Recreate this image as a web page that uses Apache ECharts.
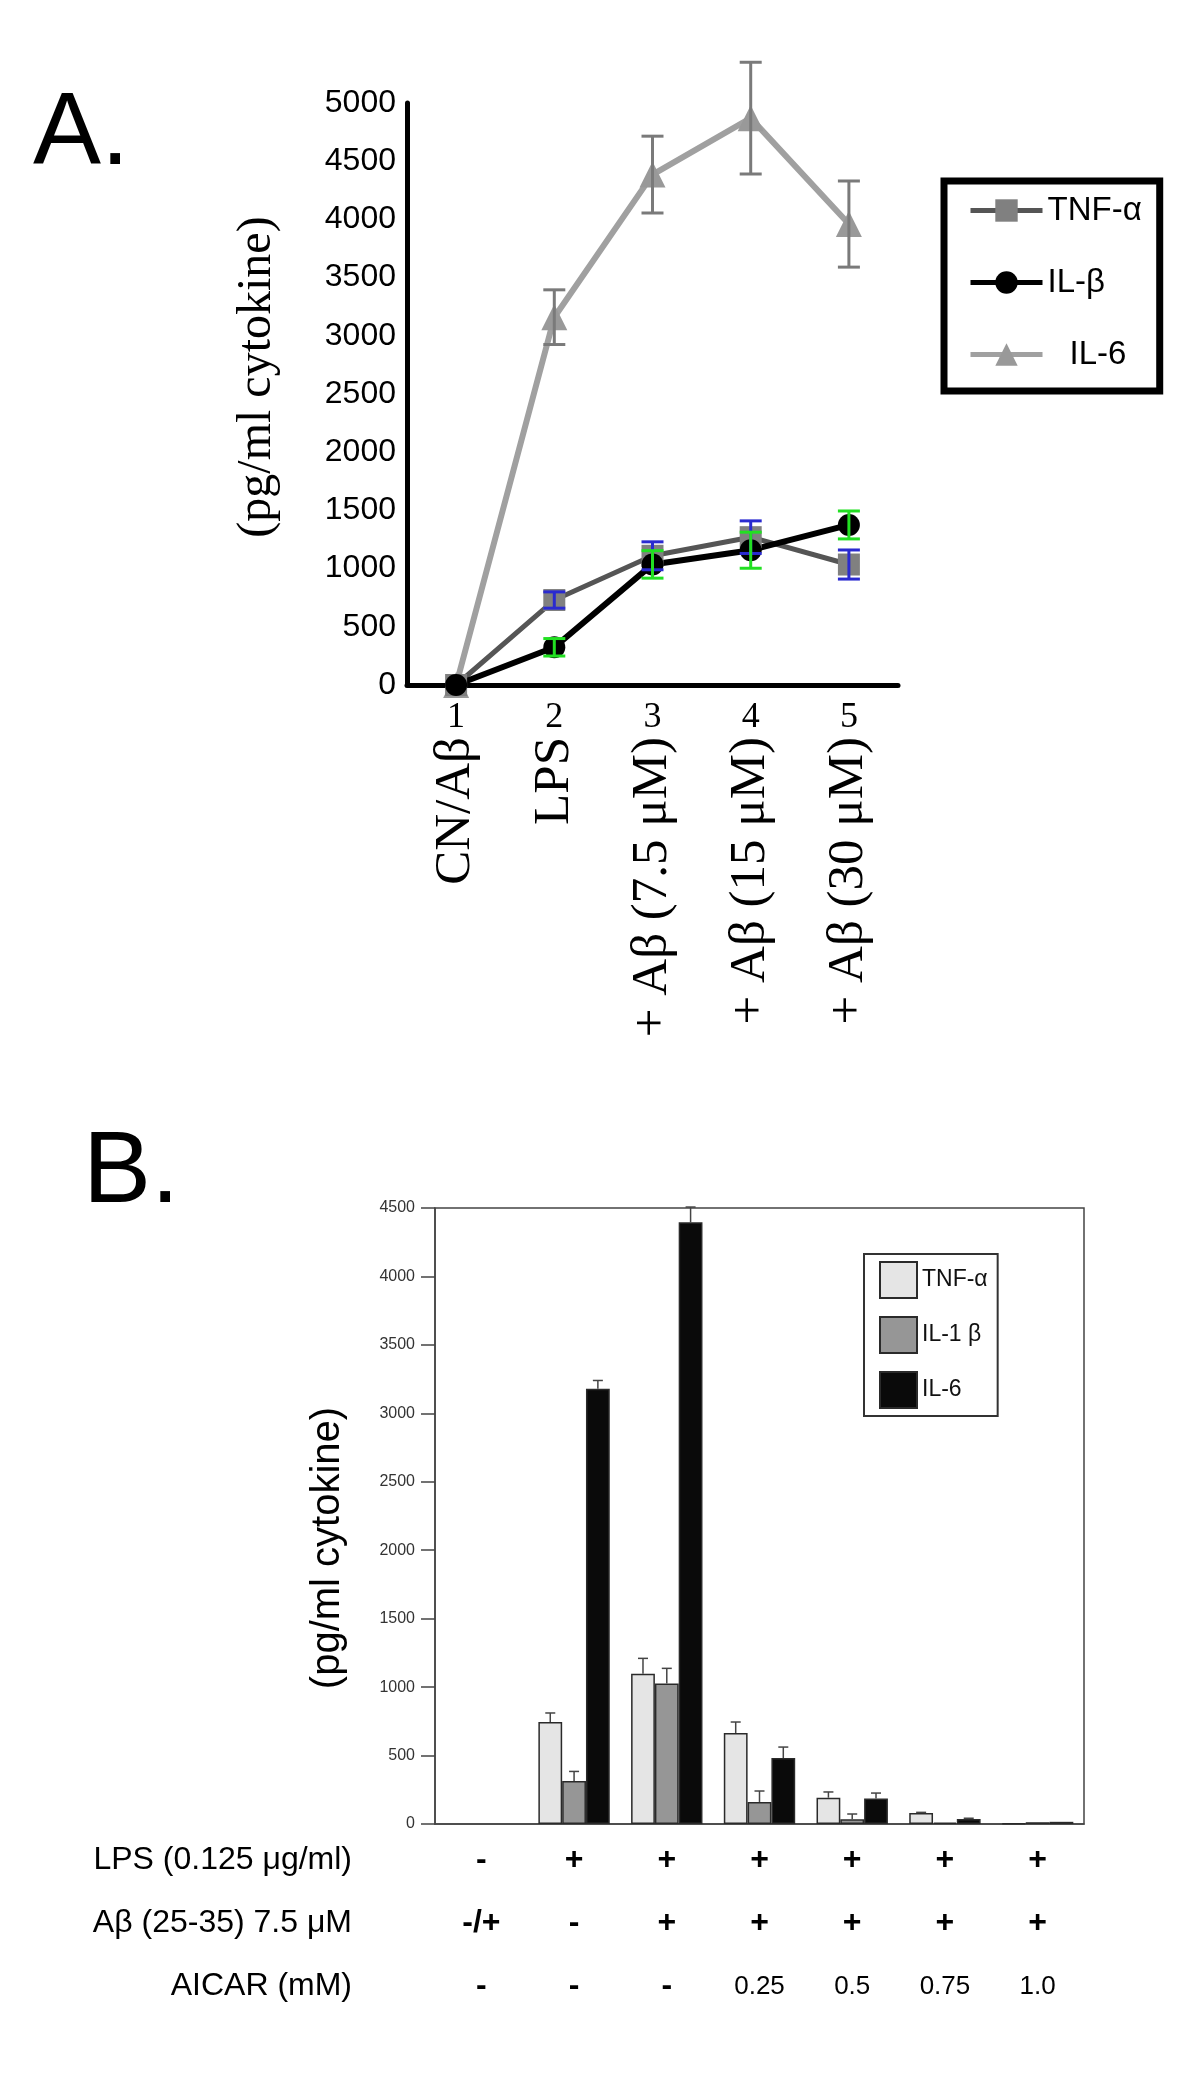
<!DOCTYPE html>
<html>
<head>
<meta charset="utf-8">
<script src="https://cdn.jsdelivr.net/npm/echarts@6/dist/echarts.min.js"></script>
<style>
  body { margin: 0; background: #fff; }
  #panelA { position: absolute; left: 0; top: 0; width: 1200px; height: 1090px; }
  #panelB { position: absolute; left: 0; top: 1090px; width: 1200px; height: 994px; }
</style>
</head>
<body>
<div id="panelA"></div>
<div id="panelB"></div>
<script>
// ---- panel A data (line chart) ----
var groupsA = ['1', '2', '3', '4', '5'];
var namesA = ['CN/Aβ', 'LPS', '+ Aβ (7.5 μM)', '+ Aβ (15 μM)', '+ Aβ (30 μM)'];
var tnfA = [0, 730, 1110, 1270, 1035];
var tnfErrA = [0, 70, 120, 140, 125];
var ilbA = [0, 324, 1036, 1158, 1375];
var ilbErrA = [0, 75, 118, 155, 120];
var il6A = [0, 3160, 4385, 4870, 3960];
var il6ErrA = [0, 235, 330, 480, 370];

// ---- panel B data (bar chart) ----
var groupsB = ['1', '2', '3', '4', '5', '6', '7'];
var lpsRow = ['-', '+', '+', '+', '+', '+', '+'];
var abRow = ['-/+', '-', '+', '+', '+', '+', '+'];
var aicarRow = ['-', '-', '-', '0.25', '0.5', '0.75', '1.0'];
var tnfB = [null, 745, 1098, 665, 192, 81, 5];
var tnfErrB = [0, 66, 112, 80, 42, 4, 0];
var il1bB = [null, 314, 1027, 161, 34, 10, 13];
var il1bErrB = [0, 70, 110, 80, 39, 0, 0];
var il6B = [null, 3180, 4395, 482, 187, 36, 16];
var il6ErrB = [0, 60, 112, 80, 39, 6, 0];

var sans = '"Liberation Sans", Arial, sans-serif';
var serif = '"Liberation Serif", "Times New Roman", serif';

function plain(v) { return String(v); }

// error bars for the line chart (both directions)
function errA(name, vals, errs, color) {
    return {
        name: name,
        type: 'custom',
        z: 4,
        data: vals.map(function (v, i) { return [i, v, errs[i]]; }),
        renderItem: function (params, api) {
            var e = api.value(2);
            if (!e) return null;
            var x = api.value(0), v = api.value(1);
            var hi = api.coord([x, v + e]);
            var lo = api.coord([x, v - e]);
            var st = { stroke: color, lineWidth: 3 };
            return {
                type: 'group',
                children: [
                    { type: 'line', shape: { x1: hi[0], y1: hi[1], x2: lo[0], y2: lo[1] }, style: st },
                    { type: 'line', shape: { x1: hi[0] - 11, y1: hi[1], x2: hi[0] + 11, y2: hi[1] }, style: st },
                    { type: 'line', shape: { x1: lo[0] - 11, y1: lo[1], x2: lo[0] + 11, y2: lo[1] }, style: st }
                ]
            };
        }
    };
}

var chartA = echarts.init(document.getElementById('panelA'));
chartA.setOption({
    animation: false,
    backgroundColor: '#fff',
    grid: { left: 407, top: 103, width: 491, height: 582, outerBoundsMode: 'none' },
    legend: {
        data: ['TNF-α', 'IL-β', { name: 'IL-6', textStyle: { padding: [0, 0, 0, 22] } }],
        orient: 'vertical',
        left: 944,
        top: 181,
        itemWidth: 72,
        itemHeight: 28,
        itemGap: 39,
        padding: [13, 18, 20, 24],
        borderColor: '#000',
        borderWidth: 7,
        lineStyle: { width: 5 },
        textStyle: { fontFamily: sans, fontSize: 33, color: '#000', lineHeight: 28 }
    },
    xAxis: [{
        type: 'category',
        data: groupsA,
        axisLine: { lineStyle: { color: '#000', width: 5 } },
        axisTick: { length: 19, lineStyle: { color: '#000', width: 5 } },
        axisLabel: { fontFamily: serif, fontSize: 36, color: '#000', margin: 15 }
    }, {
        type: 'category',
        data: namesA,
        position: 'bottom',
        axisLine: { show: false },
        axisTick: { show: false },
        axisLabel: { rotate: 90, interval: 0, margin: 52, fontFamily: serif, fontSize: 51, color: '#000' }
    }],
    yAxis: {
        type: 'value',
        min: 0,
        max: 5000,
        interval: 500,
        splitLine: { show: false },
        axisLine: { show: true, lineStyle: { color: '#000', width: 5 } },
        axisTick: { show: false },
        axisLabel: { formatter: plain, fontFamily: sans, fontSize: 32, color: '#000', margin: 11 }
    },
    graphic: [
        { type: 'text', x: 33, y: 136, style: { text: 'A.', font: '102px ' + sans, fill: '#000', align: 'left', verticalAlign: 'middle' } },
        { type: 'text', x: 257, y: 377, rotation: Math.PI / 2, style: { text: '(pg/ml cytokine)', font: '48px ' + serif, fill: '#000', align: 'center', verticalAlign: 'middle' } }
    ],
    series: [{
        name: 'TNF-α',
        type: 'line',
        data: tnfA,
        symbol: 'rect',
        symbolSize: 22,
        lineStyle: { color: '#555', width: 5 },
        itemStyle: { color: '#808080' },
        z: 3
    }, {
        name: 'IL-β',
        type: 'line',
        data: ilbA,
        symbol: 'circle',
        symbolSize: 22,
        lineStyle: { color: '#000', width: 6 },
        itemStyle: { color: '#000' },
        z: 3
    }, {
        name: 'IL-6',
        type: 'line',
        data: il6A,
        symbol: 'triangle',
        symbolSize: 26,
        lineStyle: { color: '#a0a0a0', width: 6 },
        itemStyle: { color: '#999' },
        z: 2
    },
        errA('TNF-α err', tnfA, tnfErrA, '#2a2ad0'),
        errA('IL-β err', ilbA, ilbErrA, '#22e022'),
        errA('IL-6 err', il6A, il6ErrA, '#7a7a7a')
    ]
});

// error bars for the bar chart (upper whisker only)
var gapB = 0.23;
function errB(name, vals, errs, k) {
    return {
        name: name,
        type: 'custom',
        z: 4,
        data: vals.map(function (v, i) { return [i, v || 0, errs[i]]; }),
        renderItem: function (params, api) {
            var e = api.value(2);
            if (!e) return null;
            var band = api.size([1, 0])[0];
            var bw = band * (1 - gapB) / 3;
            var base = api.coord([api.value(0), api.value(1)]);
            var x = base[0] - bw * 1.5 + bw * (k + 0.5);
            var top = api.coord([api.value(0), api.value(1) + e]);
            var st = { stroke: '#444', lineWidth: 1.5 };
            return {
                type: 'group',
                children: [
                    { type: 'line', shape: { x1: x, y1: base[1], x2: x, y2: top[1] }, style: st },
                    { type: 'line', shape: { x1: x - 5, y1: top[1], x2: x + 5, y2: top[1] }, style: st }
                ]
            };
        }
    };
}

var chartB = echarts.init(document.getElementById('panelB'));
chartB.setOption({
    animation: false,
    backgroundColor: '#fff',
    grid: { left: 435, top: 118, width: 649, height: 616, show: true, borderColor: '#444', borderWidth: 1.5, outerBoundsMode: 'none' },
    legend: {
        data: ['TNF-α', 'IL-1 β', 'IL-6'],
        orient: 'vertical',
        left: 864,
        top: 164,
        icon: 'rect',
        itemWidth: 37,
        itemHeight: 36,
        itemGap: 17,
        padding: [7, 10, 7, 15],
        borderColor: '#333',
        borderWidth: 2,
        textStyle: { fontFamily: sans, fontSize: 23, color: '#111' }
    },
    xAxis: {
        type: 'category',
        data: groupsB,
        axisLine: { lineStyle: { color: '#444', width: 1.5 } },
        axisTick: { length: 7, lineStyle: { color: '#444', width: 1.5 } },
        axisLabel: {
            interval: 0,
            margin: 5,
            color: '#000',
            formatter: function (v, i) {
                var n = /^[0-9]/.test(aicarRow[i]) ? 'n' : 's';
                return '{s|' + lpsRow[i] + '}\n{s|' + abRow[i] + '}\n{' + n + '|' + aicarRow[i] + '}';
            },
            rich: {
                s: { fontFamily: sans, fontSize: 32, fontWeight: 'bold', lineHeight: 63, color: '#000' },
                n: { fontFamily: sans, fontSize: 26, lineHeight: 63, color: '#000' }
            }
        }
    },
    yAxis: {
        type: 'value',
        min: 0,
        max: 4500,
        interval: 500,
        splitLine: { show: false },
        axisLine: { show: true, lineStyle: { color: '#444', width: 1.5 } },
        axisTick: { show: true, length: 14, lineStyle: { color: '#444', width: 1.5 } },
        axisLabel: { formatter: plain, fontFamily: sans, fontSize: 16, color: '#333', margin: 20 }
    },
    graphic: [
        { type: 'text', x: 83, y: 84, style: { text: 'B.', font: '102px ' + sans, fill: '#000', align: 'left', verticalAlign: 'middle' } },
        { type: 'text', x: 328, y: 458, rotation: Math.PI / 2, style: { text: '(pg/ml cytokine)', font: '40px ' + sans, fill: '#000', align: 'center', verticalAlign: 'middle' } },
        { type: 'text', x: 352, y: 770, style: { text: 'LPS (0.125 μg/ml)', font: '32px ' + sans, fill: '#000', align: 'right', verticalAlign: 'middle' } },
        { type: 'text', x: 352, y: 833, style: { text: 'Aβ (25-35) 7.5 μM', font: '32px ' + sans, fill: '#000', align: 'right', verticalAlign: 'middle' } },
        { type: 'text', x: 352, y: 896, style: { text: 'AICAR (mM)', font: '32px ' + sans, fill: '#000', align: 'right', verticalAlign: 'middle' } }
    ],
    series: [{
        name: 'TNF-α',
        type: 'bar',
        data: tnfB,
        barGap: 0,
        barCategoryGap: '23%',
        itemStyle: { color: '#e5e5e5', borderColor: '#2a2a2a', borderWidth: 1.5 }
    }, {
        name: 'IL-1 β',
        type: 'bar',
        data: il1bB,
        itemStyle: { color: '#969696', borderColor: '#2a2a2a', borderWidth: 1.5 }
    }, {
        name: 'IL-6',
        type: 'bar',
        data: il6B,
        itemStyle: { color: '#0a0a0a', borderColor: '#2a2a2a', borderWidth: 1.5 }
    },
        errB('TNF-α err', tnfB, tnfErrB, 0),
        errB('IL-1 β err', il1bB, il1bErrB, 1),
        errB('IL-6 err', il6B, il6ErrB, 2)
    ]
});
</script>
</body>
</html>
